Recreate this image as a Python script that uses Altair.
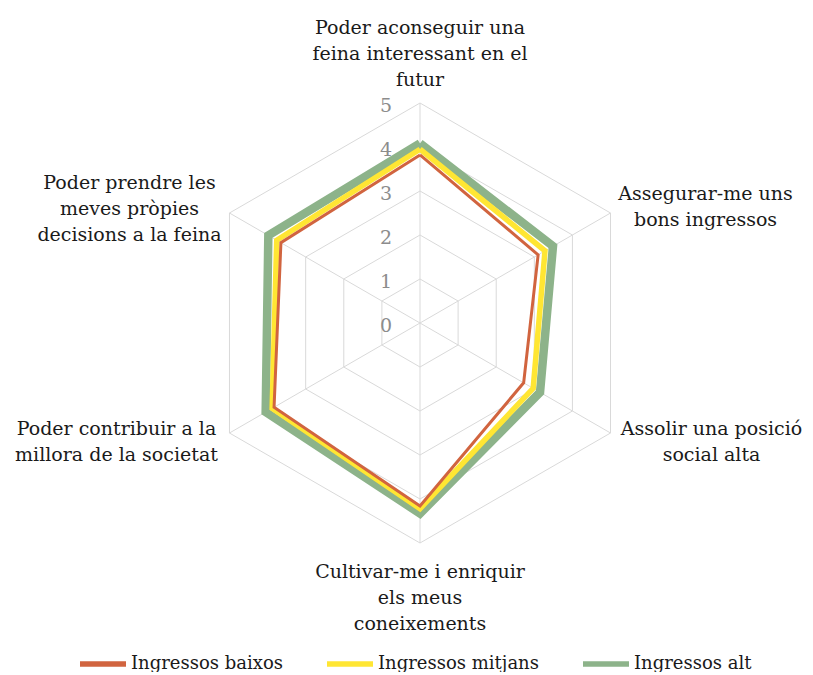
import altair as alt
import pandas as pd

# ---------------- data ----------------
categories = [
    "Poder aconseguir una\nfeina interessant en el\nfutur",
    "Assegurar-me uns\nbons ingressos",
    "Assolir una posició\nsocial alta",
    "Cultivar-me i enriquir\nels meus\nconeixements",
    "Poder contribuir a la\nmillora de la societat",
    "Poder prendre les\nmeves pròpies\ndecisions a la feina",
]
series_names = ["Ingressos baixos", "Ingressos mitjans", "Ingressos alt"]
baixos = [3.82, 3.10, 2.72, 4.16, 3.83, 3.65]
mitjans = [3.95, 3.28, 2.97, 4.22, 3.88, 3.76]
alts = [4.08, 3.49, 3.15, 4.33, 4.05, 3.98]
levels = [1, 2, 3, 4, 5]
tick_labels = ["0", "1", "2", "3", "4", "5"]

colors = ["#D1643F", "#FFE633", "#8DB38A"]
widths = [3, 5.5, 8.5]
FONT = "DejaVu Serif"

n = len(categories)

# ---------------- frames ----------------
series_rows = []
for name, vals in zip(series_names, [baixos, mitjans, alts]):
    for i in range(n + 1):
        series_rows.append({"series": name, "i": i, "v": vals[i % n]})
series_df = pd.DataFrame(series_rows)

grid_rows = []
for lv in levels:
    for i in range(n + 1):
        grid_rows.append({"level": lv, "i": i, "v": lv})
grid_df = pd.DataFrame(grid_rows)

spoke_df = pd.DataFrame({"i": list(range(n)), "v": [max(levels)] * n})
tick_df = pd.DataFrame({"lab": tick_labels, "v": [int(t) for t in tick_labels]})

# ---------------- scales ----------------
PX = 44.0
cx, cy = 412.0, 315.0
W, H = 797, 664
xs = alt.Scale(domain=[-cx / PX, (W - cx) / PX], nice=False, zero=False)
ys = alt.Scale(domain=[-(H - cy) / PX, cy / PX], nice=False, zero=False)


def polar(ch):
    return ch.transform_calculate(
        x="datum.v * sin(datum.i * PI / 3)",
        y="datum.v * cos(datum.i * PI / 3)",
    )


X = alt.X("x:Q", scale=xs, axis=None)
Y = alt.Y("y:Q", scale=ys, axis=None)

grid = polar(alt.Chart(grid_df)).mark_line(
    color="#D9D9D9", strokeWidth=1
).encode(x=X, y=Y, detail="level:N", order="i:Q")

spokes = polar(alt.Chart(spoke_df)).transform_calculate(
    x0="0", y0="0"
).mark_rule(color="#D9D9D9", strokeWidth=1).encode(
    x=alt.X("x0:Q", scale=xs, axis=None),
    y=alt.Y("y0:Q", scale=ys, axis=None),
    x2="x:Q",
    y2="y:Q",
)

color_enc = alt.Color(
    "series:N",
    scale=alt.Scale(domain=series_names, range=colors),
    legend=alt.Legend(
        title=None,
        orient="none",
        direction="horizontal",
        legendX=69,
        legendY=630,
        symbolType="stroke",
        symbolStrokeWidth=5.5,
        symbolSize=2116,
        labelFont=FONT,
        labelFontSize=18,
        labelColor="#1A1A1A",
        labelOffset=2,
        columnPadding=33,
        labelLimit=400,
    ),
)

lines = []
for k in [2, 1, 0]:
    name = series_names[k]
    lines.append(
        polar(alt.Chart(series_df[series_df.series == name]))
        .mark_line(strokeWidth=widths[k], strokeJoin="miter")
        .encode(x=X, y=Y, order="i:Q", color=color_enc)
    )

ticks = alt.Chart(tick_df).transform_calculate(x="0", y="datum.v").mark_text(
    align="right", baseline="middle", dx=-28, dy=3, font=FONT, fontSize=19, color="#8C8C8C"
).encode(x=X, y=Y, text="lab:N")

# label offsets (pixels) from each outer vertex (first line anchored)
DX = [0, 95, 101, 0, -113, -100]
DY = [-75, -19, -4, 29, -4, -30]
labels = []
for i, cat in enumerate(categories):
    d = pd.DataFrame({"lab": [cat], "i": [i], "v": [max(levels)]})
    labels.append(
        polar(alt.Chart(d)).mark_text(
            align="center", baseline="middle", dx=DX[i], dy=DY[i],
            lineBreak="\n", lineHeight=26, font=FONT, fontSize=19, color="#1A1A1A",
        ).encode(x=X, y=Y, text="lab:N")
    )

chart = alt.layer(grid, spokes, *lines, ticks, *labels).properties(
    width=W, height=H, padding=0, autosize="none"
).configure_view(stroke=None)

chart.save("out.html", embed_options={"renderer": "svg", "actions": False})
